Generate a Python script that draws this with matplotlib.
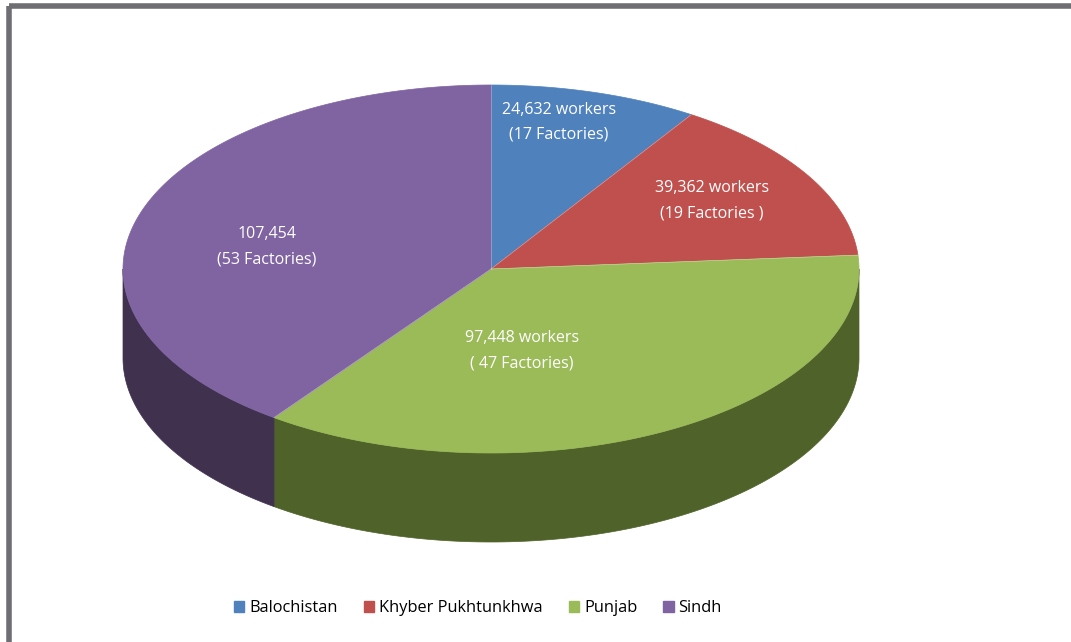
import numpy as np
import matplotlib.pyplot as plt
from matplotlib.patches import Polygon, Rectangle, Patch

regions = ["Balochistan", "Khyber Pukhtunkhwa", "Punjab", "Sindh"]
workers = [24632, 39362, 97448, 107454]
factories = [17, 19, 47, 53]
labels = ["24,632 workers\n(17 Factories)",
          "39,362 workers\n(19 Factories )",
          "97,448 workers\n( 47 Factories)",
          "107,454\n(53 Factories)"]
top_colors = ["#4F81BD", "#C0504D", "#9BBB59", "#8064A2"]
side_colors = ["#2C4D75", "#772C2A", "#4F6229", "#40314F"]

W, H = 1071, 642
plt.rcParams['font.family'] = ['Open Sans', 'DejaVu Sans']
fig = plt.figure(figsize=(W / 100, H / 100), dpi=100)
ax = fig.add_axes([0, 0, 1, 1])
ax.set_xlim(0, W)
ax.set_ylim(H, 0)
ax.axis('off')

# outer frame (only top and left visible)
ax.add_patch(Rectangle((8.5, 5.5), 3000, 3000, fill=False, ec="#6E6E73", lw=4.0))

cx, cy, rx, ry, depth = 491, 269, 368, 184, 89


def pt(theta_deg, dy=0.0):
    t = np.radians(theta_deg)
    return cx + rx * np.sin(t), cy - ry * np.cos(t) + dy


fracs = np.array(workers) / sum(workers)
bounds = np.concatenate([[0], np.cumsum(fracs) * 360])

# side walls (front half only)
for i in range(len(workers)):
    a, b = max(bounds[i], 90), min(bounds[i + 1], 270)
    if b > a:
        th = np.linspace(a, b, 300)
        xs, ys = pt(th)
        xb, yb = pt(th[::-1], depth)
        poly = Polygon(np.column_stack([np.r_[xs, xb], np.r_[ys, yb]]), closed=True,
                       fc=side_colors[i], ec=side_colors[i], lw=0.5)
        ax.add_patch(poly)

# top faces
for i in range(len(workers)):
    th = np.linspace(bounds[i], bounds[i + 1], 400)
    xs, ys = pt(th)
    poly = Polygon(np.column_stack([np.r_[cx, xs], np.r_[cy, ys]]), closed=True,
                   fc=top_colors[i], ec=top_colors[i], lw=0.5)
    ax.add_patch(poly)
# faint separators
for i in range(len(workers)):
    x1, y1 = pt(bounds[i])
    ax.plot([cx, x1], [cy, y1], color="white", lw=0.4, alpha=0.5)

label_pos = [(559, 122), (712, 201), (522, 351), (267, 247)]
for (lx, ly), txt in zip(label_pos, labels):
    ax.text(lx, ly, txt, color="white", fontsize=11.5, ha="center", va="center",
            linespacing=1.75)

handles = [Patch(facecolor=c, edgecolor=c) for c in top_colors]
fig.legend(handles, regions, loc="center", bbox_to_anchor=(478 / W, 1 - 608 / H),
           ncol=4, frameon=False, fontsize=11.8, handlelength=0.62, handleheight=0.62,
           handletextpad=0.3, columnspacing=1.6)

fig.savefig("out.png", dpi=100)
